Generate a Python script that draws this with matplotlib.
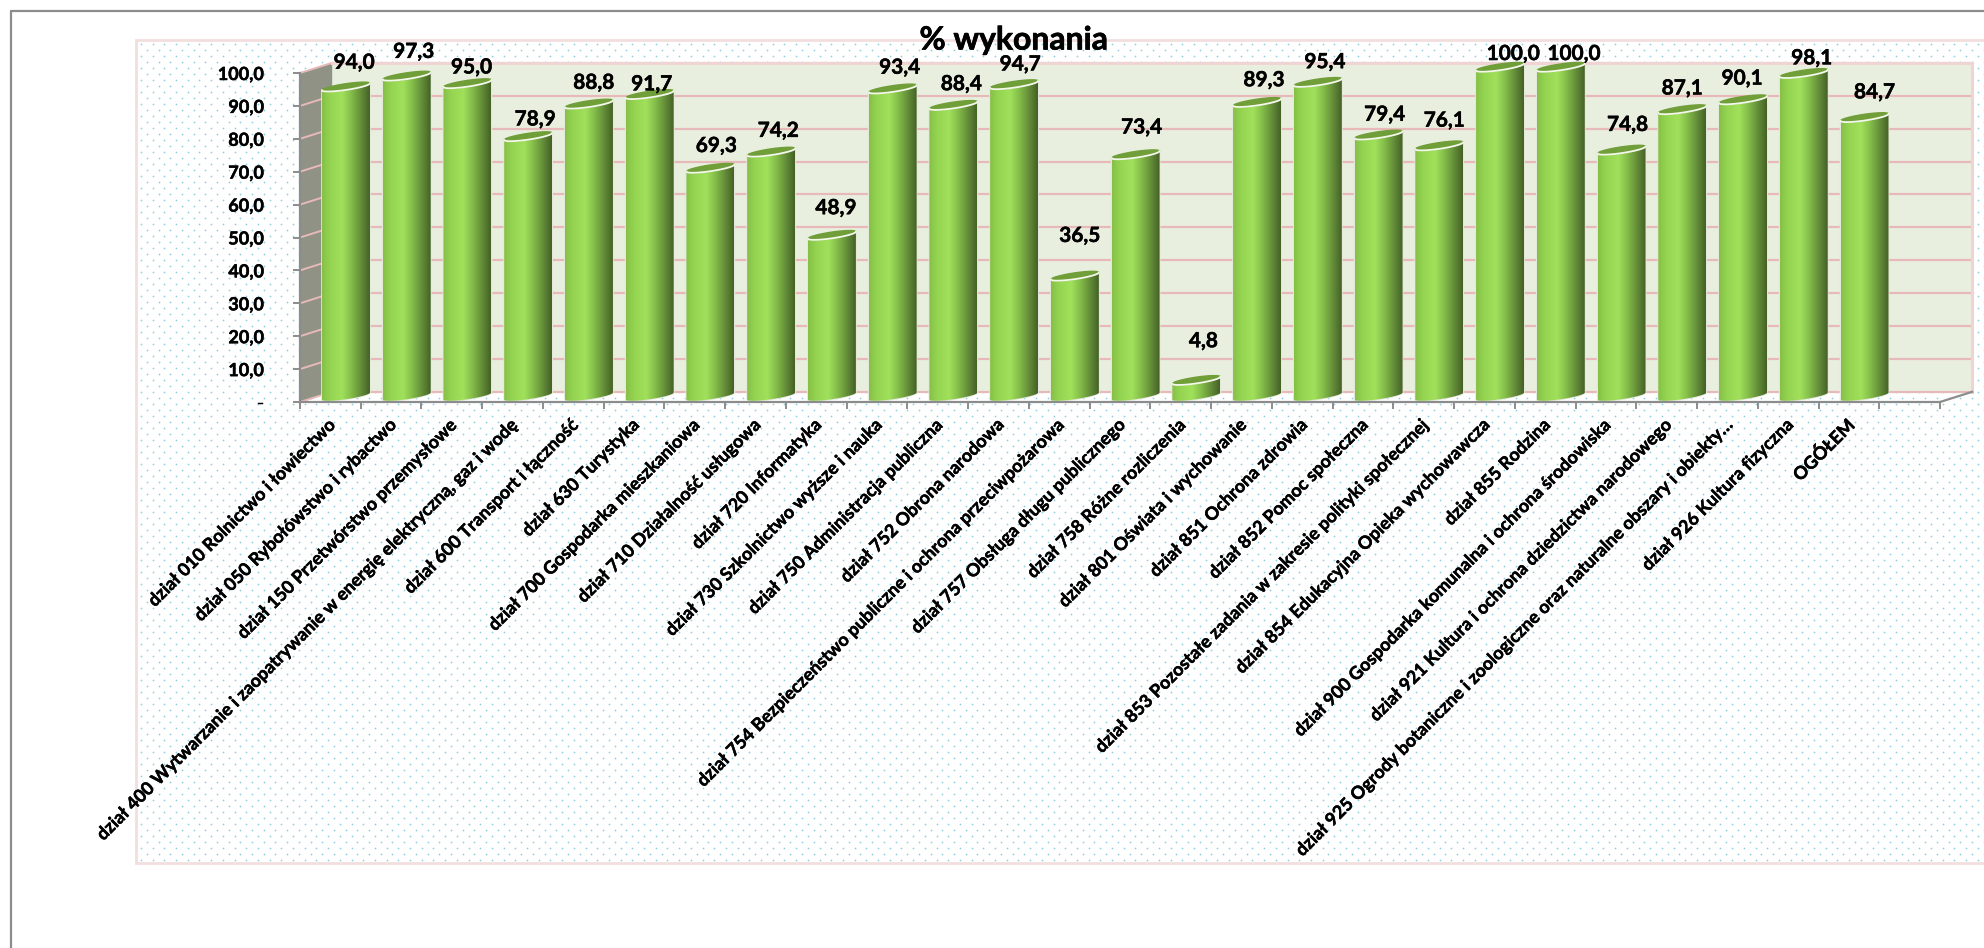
import numpy as np
import matplotlib
matplotlib.use('Agg')
import matplotlib.pyplot as plt
import matplotlib.patheffects as pe
from matplotlib.colors import LinearSegmentedColormap
from matplotlib.patches import Polygon, Rectangle

plt.rcParams['font.family'] = ['Lato', 'DejaVu Sans']
plt.rcParams['font.weight'] = 'bold'

categories = [
    'dział 010 Rolnictwo i łowiectwo',
    'dział 050 Rybołówstwo i rybactwo',
    'dział 150 Przetwórstwo przemysłowe',
    'dział 400 Wytwarzanie i zaopatrywanie w energię elektryczną, gaz i wodę',
    'dział 600 Transport i łączność',
    'dział 630 Turystyka',
    'dział 700 Gospodarka mieszkaniowa',
    'dział 710 Działalność usługowa',
    'dział 720 Informatyka',
    'dział 730 Szkolnictwo wyższe i nauka',
    'dział 750 Administracja publiczna',
    'dział 752 Obrona narodowa',
    'dział 754 Bezpieczeństwo publiczne i ochrona przeciwpożarowa',
    'dział 757 Obsługa długu publicznego',
    'dział 758 Różne rozliczenia',
    'dział 801 Oświata i wychowanie',
    'dział 851 Ochrona zdrowia',
    'dział 852 Pomoc społeczna',
    'dział 853 Pozostałe zadania w zakresie polityki społecznej',
    'dział 854 Edukacyjna Opieka wychowawcza',
    'dział 855 Rodzina',
    'dział 900 Gospodarka komunalna i ochrona środowiska',
    'dział 921 Kultura i ochrona dziedzictwa narodowego',
    'dział 925 Ogrody botaniczne i zoologiczne oraz naturalne obszary i obiekty…',
    'dział 926 Kultura fizyczna',
    'OGÓŁEM',
]
values = [94.0, 97.3, 95.0, 78.9, 88.8, 91.7, 69.3, 74.2, 48.9, 93.4, 88.4, 94.7, 36.5,
          73.4, 4.8, 89.3, 95.4, 79.4, 76.1, 100.0, 100.0, 74.8, 87.1, 90.1, 98.1, 84.7]
y_ticks = list(range(0, 101, 10))
y_labels = ['-'] + [f'{v},0' for v in y_ticks[1:]]
n_slots = 27

# hand placement of the value labels, pixels from the default spot
label_dx = [2, 1, -2, 1, -1, -4, 0, 1, -2, 1, 2, 0, -1, 0, 1, 1, 1, 0, -1, 7, 7, 0, -6, -7, 2, 4]
label_dy = [3, 3, -5, -4, 0, -11, 1, 0, 6, 0, 0, -1, 19, 6, 18, 1, -1, -1, 4, -8, -8, 4, 0, 0, -6, 4]

W, H = 1984, 948
GREY = '#8c8c8c'
PINK = '#e8b9b9'
bold = [pe.withStroke(linewidth=0.35, foreground='black')]

fig = plt.figure(figsize=(W / 100, H / 100), dpi=100, facecolor='white')

# background: page frame, chart area and its dots (pixel coordinates)
bg = fig.add_axes([0, 0, 1, 1])
bg.set_xlim(0, W)
bg.set_ylim(H, 0)
bg.axis('off')
bg.plot([11, 11, W], [H, 11, 11], color=GREY, lw=1.6)
bg.add_patch(Rectangle((136, 40), W, 823, fc='white', ec='#f3dede', lw=2))
for k, row in enumerate(np.arange(44, 862, 6.0)):
    xs = np.arange(141 + (k % 2) * 5.8, W, 11.7)
    bg.scatter(xs, [row] * len(xs), s=1.6, color='#8fd0e3', linewidths=0)

# main axes is the front plane of the 3D box
ax = fig.add_axes([300 / W, 1 - 402 / H, 1640 / W, 329 / H])
ax.patch.set_visible(False)
dx, dy = 0.53, 3.1

ax.add_patch(Polygon([(dx, dy), (n_slots + dx, dy), (n_slots + dx, 100 + dy), (dx, 100 + dy)],
                     fc='#e9efdf', ec='none', zorder=1, clip_on=False))
ax.add_patch(Polygon([(0, 0), (dx, dy), (dx, 100 + dy), (0, 100)],
                     fc='#8f9285', ec='none', zorder=1, clip_on=False))
for v in y_ticks:
    ax.plot([dx, n_slots + dx], [v + dy, v + dy], color=PINK, lw=1.6, zorder=1.2, clip_on=False)
    ax.plot([0, dx], [v, v + dy], color=PINK, lw=1.4, zorder=1.2, clip_on=False)
ax.plot([dx, n_slots + dx, n_slots + dx], [100 + dy, 100 + dy, dy], color='#f0d3d3', lw=2.2,
        zorder=1.3, clip_on=False)
ax.plot([n_slots, n_slots + dx], [0, dy], color=GREY, lw=1.6, zorder=1.3, clip_on=False)

# cylinders
bar_cmap = LinearSegmentedColormap.from_list(
    'cyl', [(0, '#86bf48'), (0.15, '#93d350'), (0.42, '#a0e05b'), (0.6, '#86c04a'),
            (0.8, '#66913a'), (1, '#456226')])
grad = np.linspace(0, 1, 128).reshape(1, -1)
half = 0.395
lift = 1.8
shear = 1.06
minor = 0.95
t = np.linspace(0, 2 * np.pi, 121)

for i, v in enumerate(values):
    cx = i + 0.757
    ex = cx + half * np.cos(t)
    ey = shear * np.cos(t) + minor * np.sin(t)
    lower = t[60:121]
    lx = cx + half * np.cos(lower)
    ly = shear * np.cos(lower) + minor * np.sin(lower)
    body = np.concatenate([np.column_stack([lx, ly + lift]),
                           np.column_stack([lx[::-1], ly[::-1] + lift + v])])
    # pale rim round the cylinder
    ax.add_patch(Polygon(body, fc='none', ec='#e4e8dc', lw=1.2, zorder=2.9, clip_on=False))
    patch = Polygon(body, fc='none', ec='none', transform=ax.transData)
    ax.add_patch(patch)
    im = ax.imshow(grad, extent=[cx - half, cx + half, -1, 106], cmap=bar_cmap, aspect='auto',
                   zorder=3, interpolation='bilinear')
    im.set_clip_box(fig.bbox)
    im.set_clip_path(patch)
    ax.fill(ex, ey + lift + v, color='#709e38', zorder=3.2, clip_on=False)
    ax.plot(lx, ly + lift + v, color='#f4f8ec', lw=1.3, zorder=3.3, clip_on=False)
    ax.annotate(f'{v:.1f}'.replace('.', ','), xy=(cx + 0.1, v + lift + 6.4),
                xytext=(label_dx[i], label_dy[i]), textcoords='offset pixels',
                ha='center', va='center', fontsize=15, color='black', zorder=4,
                annotation_clip=False, path_effects=bold)

ax.set_xlim(0, n_slots)
ax.set_ylim(0, 100)
for side in ['top', 'right']:
    ax.spines[side].set_visible(False)
for side in ['left', 'bottom']:
    ax.spines[side].set_color(GREY)
    ax.spines[side].set_linewidth(1.6)
    ax.spines[side].set_zorder(5)
ax.set_yticks(y_ticks, y_labels, fontsize=13)
ax.tick_params(axis='y', length=5, width=1.4, color=GREY, pad=21)
ax.set_xticks(range(n_slots + 1), [''] * (n_slots + 1))
ax.tick_params(axis='x', which='major', length=5, width=1.4, color=GREY)
ax.set_xticks(np.arange(len(categories)) + 0.44, categories, minor=True, rotation=45, ha='right',
              rotation_mode='anchor', fontsize=12.9)
ax.tick_params(axis='x', which='minor', length=0, pad=10)
for lab in ax.get_yticklabels() + ax.get_xticklabels(minor=True):
    lab.set_path_effects(bold)

fig.text(1014 / W, 1 - 40 / H, '% wykonania', ha='center', va='center', fontsize=23,
         color='black', path_effects=[pe.withStroke(linewidth=0.5, foreground='black')])

fig.savefig('out.png', dpi=100)
